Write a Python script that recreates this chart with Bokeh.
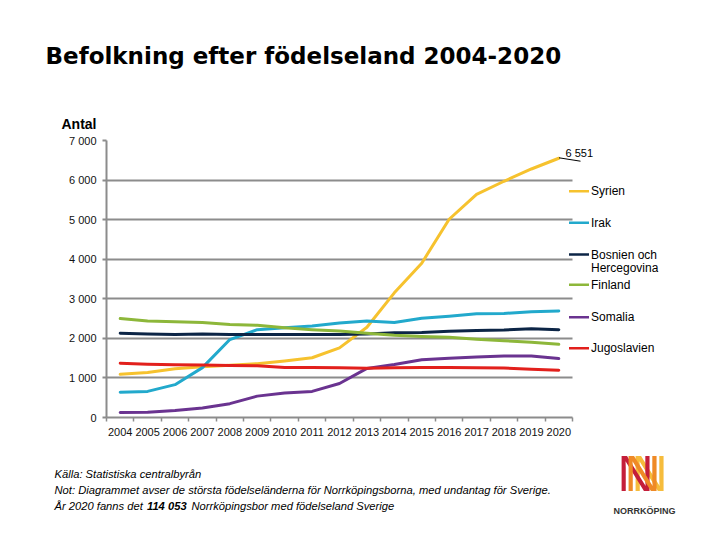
from bokeh.plotting import figure
from bokeh.models import Label, Arrow, FixedTicker, Range1d, ColumnDataSource
from bokeh.embed import file_html
from bokeh.resources import INLINE

# ---------------- data ----------------
years = list(range(2004, 2021))
series_names = ["Syrien", "Irak", "Bosnien och Hercegovina", "Finland", "Somalia", "Jugoslavien"]
syrien = [1090, 1140, 1230, 1280, 1320, 1360, 1430, 1510, 1760, 2280, 3150, 3900, 5010, 5640, 5970, 6280, 6551]
irak = [640, 660, 830, 1260, 1970, 2220, 2270, 2310, 2390, 2440, 2400, 2510, 2560, 2620, 2630, 2670, 2690]
bosnien = [2130, 2110, 2100, 2110, 2100, 2100, 2100, 2100, 2100, 2110, 2140, 2150, 2180, 2200, 2210, 2240, 2220]
finland = [2500, 2440, 2420, 2400, 2350, 2330, 2270, 2220, 2185, 2130, 2080, 2050, 2030, 1980, 1940, 1900, 1850]
somalia = [125, 130, 175, 240, 350, 540, 620, 660, 860, 1240, 1340, 1460, 1500, 1530, 1555, 1555, 1490]
jugoslavien = [1370, 1345, 1335, 1325, 1313, 1305, 1265, 1265, 1255, 1245, 1260, 1265, 1265, 1255, 1250, 1220, 1195]
series_values = [syrien, irak, bosnien, finland, somalia, jugoslavien]
colors = ["#F6C22E", "#22A9CC", "#0C2546", "#8DB73A", "#6A3390", "#E2201C"]
y_ticks = [0, 1000, 2000, 3000, 4000, 5000, 6000, 7000]

title_text = "Befolkning efter födelseland 2004-2020"
ylabel_text = "Antal"
note1 = "Källa: Statistiska centralbyrån"
note2 = "Not: Diagrammet avser de största födelseländerna för Norrköpingsborna, med undantag för Sverige."
note3a = "År 2020 fanns det"
note3b = "114 053"
note3c = "Norrköpingsbor med födelseland Sverige"
logo_text = "NORRKÖPING"

GRID = "#8c8c8c"
FONT = "Liberation Sans"
W, H = 712, 532
# plot area (page px): x 106..572, y 140..417; the frame extends further right
# so the legend can be drawn inside it, while grid/axis stay bounded to the data range.
FRAME_L, PLOT_R, FRAME_R, FRAME_T, FRAME_B = 106, 572, 658, 140, 417
n = len(years)
px_per_cat = (PLOT_R - FRAME_L) / n
x_lo, x_hi = -0.5, n - 0.5
x_end = x_hi + (FRAME_R - PLOT_R) / px_per_cat

p = figure(width=W, height=H, output_backend="svg", toolbar_location=None,
           title=None, x_range=Range1d(x_lo, x_end), y_range=Range1d(0, 7000),
           min_border_left=FRAME_L, min_border_right=W - FRAME_R,
           min_border_top=FRAME_T, min_border_bottom=H - FRAME_B)
p.outline_line_color = None
p.background_fill_color = "white"
p.border_fill_color = "white"

idx = list(range(n))
for name, vals, col in zip(series_names, series_values, colors):
    src = ColumnDataSource(dict(x=idx, y=vals))
    p.line("x", "y", source=src, line_color=col, line_width=3, line_join="round", line_cap="round")

# x axis
xa = p.xaxis[0]
xa.bounds = (x_lo, x_hi)
xa.ticker = FixedTicker(ticks=idx, minor_ticks=[i - 0.5 for i in range(n + 1)])
xa.major_label_overrides = {i: str(y) for i, y in zip(idx, years)}
xa.major_tick_out = 0
xa.major_tick_in = 0
xa.minor_tick_out = 4
xa.minor_tick_in = 0
xa.minor_tick_line_color = GRID
xa.minor_tick_line_width = 1.5
xa.axis_line_color = GRID
xa.axis_line_width = 2
xa.major_label_text_font = FONT
xa.major_label_text_font_size = "11px"
xa.major_label_text_color = "#111111"
xa.major_label_standoff = 6

# y axis
ya = p.yaxis[0]
ya.ticker = FixedTicker(ticks=y_ticks, minor_ticks=[])
ya.major_label_overrides = {v: f"{v:,}".replace(",", " ") for v in y_ticks}
ya.major_tick_out = 4
ya.major_tick_in = 0
ya.major_tick_line_color = GRID
ya.major_tick_line_width = 2
ya.minor_tick_out = 0
ya.minor_tick_in = 0
ya.axis_line_color = GRID
ya.axis_line_width = 2
ya.major_label_text_font = FONT
ya.major_label_text_font_size = "11px"
ya.major_label_text_color = "#111111"
ya.major_label_standoff = 6

p.xgrid.visible = False
yg = p.ygrid[0]
yg.grid_line_color = GRID
yg.grid_line_width = 2
try:
    yg.cross_bounds = (x_lo, x_hi)
except Exception:
    pass


def label(side, x, y, text, size="11px", style="normal", align="left", baseline="middle",
          color="#000000", font=FONT):
    lab = Label(x=x, y=y, x_units="canvas", y_units="canvas", text=text,
                text_font=font, text_font_size=size, text_font_style=style,
                text_align=align, text_baseline=baseline, text_color=color)
    if side == "center":
        p.add_layout(lab)
    else:
        p.add_layout(lab, side)


def seg(x0, y0, x1, y1, color, width):
    p.add_layout(Arrow(end=None, x_start=x0 - FRAME_L, y_start=FRAME_B - y0,
                       x_end=x1 - FRAME_L, y_end=FRAME_B - y1,
                       start_units="screen", end_units="screen", line_color=color, line_width=width))

# title and axis caption
label("above", 45, 55, title_text, size="23px", style="bold", font="DejaVu Sans")
label("above", 61, 123, ylabel_text, size="14px", style="bold")

# legend (drawn inside the extended frame, right of the plot area)
legend_y = [190.7, 222.3, 254, 284.3, 316.7, 347.7]
for name, col, ly in zip(series_names, colors, legend_y):
    seg(568.5, ly, 588.5, ly, col, 2.5)
    if name == "Bosnien och Hercegovina":
        label("center", 590.5, ly, "Bosnien och", size="12px")
        label("center", 590.5, ly + 13.3, "Hercegovina", size="12px")
    else:
        label("center", 590.5, ly, name, size="12px")

# data label for last Syrien value + leader line
label("center", 565, 152.5, f"{syrien[-1]:,}".replace(",", " "), size="11px")
seg(558.5, 157.3, 580, 160.7, "#000000", 1)

# footnotes
label("below", 54, 473.5, note1, size="11.2px", style="italic")
label("below", 54, 489.5, note2, size="11.2px", style="italic")
label("below", 54, 505, note3a, size="11.2px", style="italic")
label("below", 146.5, 505, note3b, size="11.2px", style="bold italic")
label("below", 191, 505, note3c, size="11.2px", style="italic")

# Norrköping logo (decorative, striped N)
label("left", 617, 473, "N", size="50px", color="#C41E3A")
label("right", 624, 473, "N", size="50px", color="#EF8A26")
label("above", 631, 473, "N", size="50px", color="#F6BC3C")
label("below", 644, 510, logo_text, size="9px", style="bold", align="center", color="#333333")

open("out.html", "w").write(file_html(p, INLINE))
